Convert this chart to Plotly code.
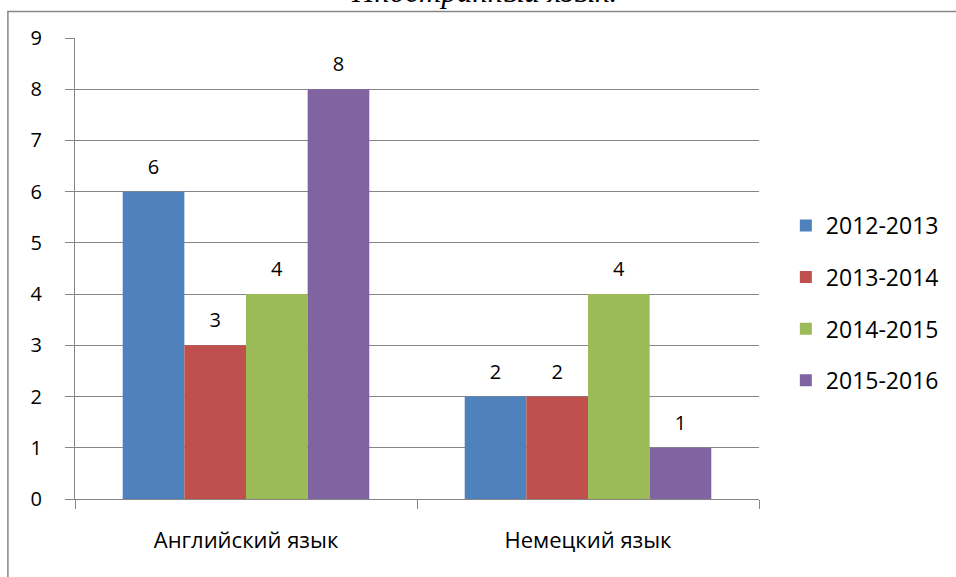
import plotly.graph_objects as go

categories = ["Английский язык", "Немецкий язык"]
series_names = ["2012-2013", "2013-2014", "2014-2015", "2015-2016"]
values_2012 = [6, 2]
values_2013 = [3, 2]
values_2014 = [4, 4]
values_2015 = [8, 1]
y_ticks = [0, 1, 2, 3, 4, 5, 6, 7, 8, 9]
colors = ["#4F81BD", "#C0504D", "#9BBB59", "#8064A2"]

series_values = [values_2012, values_2013, values_2014, values_2015]

FONT = "Open Sans"
BARGAP = 0.279
fig = go.Figure()
for i, (name, vals) in enumerate(zip(series_names, series_values)):
    fig.add_trace(go.Bar(
        x=categories, y=vals, name=name,
        marker=dict(color=colors[i], line=dict(width=0)),
        legendgroup=name, hoverinfo="skip",
        offsetgroup=str(i),
    ))
for i, (name, vals) in enumerate(zip(series_names, series_values)):
    fig.add_trace(go.Scatter(
        x=categories, y=vals, name=name,
        mode="markers+text", text=[str(v) for v in vals],
        textposition="top center",
        textfont=dict(family=FONT, size=20, color="#000000"),
        marker=dict(size=19, color="rgba(0,0,0,0)"),
        cliponaxis=False, showlegend=False, hoverinfo="skip",
        offsetgroup=str(i),
    ))

L, R, T, B = 75, 763, 38, 499
W, H = 956, 577
def px_x(p):
    return (p - L) / (R - L)
def px_y(p):
    return (B - p) / (B - T)

fig.update_layout(
    width=W, height=H,
    margin=dict(l=L, r=W - R, t=T, b=H - B, pad=0),
    paper_bgcolor="white", plot_bgcolor="white",
    barmode="group", bargap=BARGAP, bargroupgap=0,
    scattermode="group", scattergap=BARGAP,
    font=dict(family=FONT, size=20, color="#000000"),
    legend=dict(
        x=px_x(790), y=px_y(204), xanchor="left", yanchor="top",
        font=dict(family=FONT, size=23, color="#000000"),
        tracegroupgap=18.7, itemwidth=30,
        bgcolor="rgba(0,0,0,0)",
    ),
    showlegend=True,
    xaxis=dict(
        showline=True, linecolor="#868686", linewidth=1,
        ticks="outside", ticklen=9, tickcolor="#868686", tickson="boundaries",
        tickfont=dict(family=FONT, size=22, color="#000000"),
        ticklabelstandoff=22,
        showgrid=False,
    ),
    yaxis=dict(
        range=[0, 9], tickvals=y_ticks,
        showline=True, linecolor="#868686", linewidth=1,
        ticks="outside", ticklen=9, tickcolor="#868686",
        showgrid=True, gridcolor="#868686", gridwidth=1,
        zeroline=False,
        tickfont=dict(family=FONT, size=20, color="#000000"),
        ticklabelstandoff=19,
    ),
    shapes=[dict(
        type="rect", xref="paper", yref="paper",
        x0=px_x(7.5), x1=px_x(1100), y0=px_y(11.5), y1=px_y(700),
        line=dict(color="#868686", width=1.5), fillcolor="rgba(0,0,0,0)",
        layer="below",
    )],
    annotations=[dict(
        text="Иностранный язык.", xref="paper", yref="paper",
        x=px_x(486), y=px_y(11), xanchor="center", yanchor="bottom",
        showarrow=False,
        font=dict(family="Liberation Serif", size=31, color="#000000", style="italic"),
    )],
)

fig.write_html("out.html", config={"displayModeBar": False},
               post_script="document.body.style.margin='0';document.body.style.overflow='hidden';")
